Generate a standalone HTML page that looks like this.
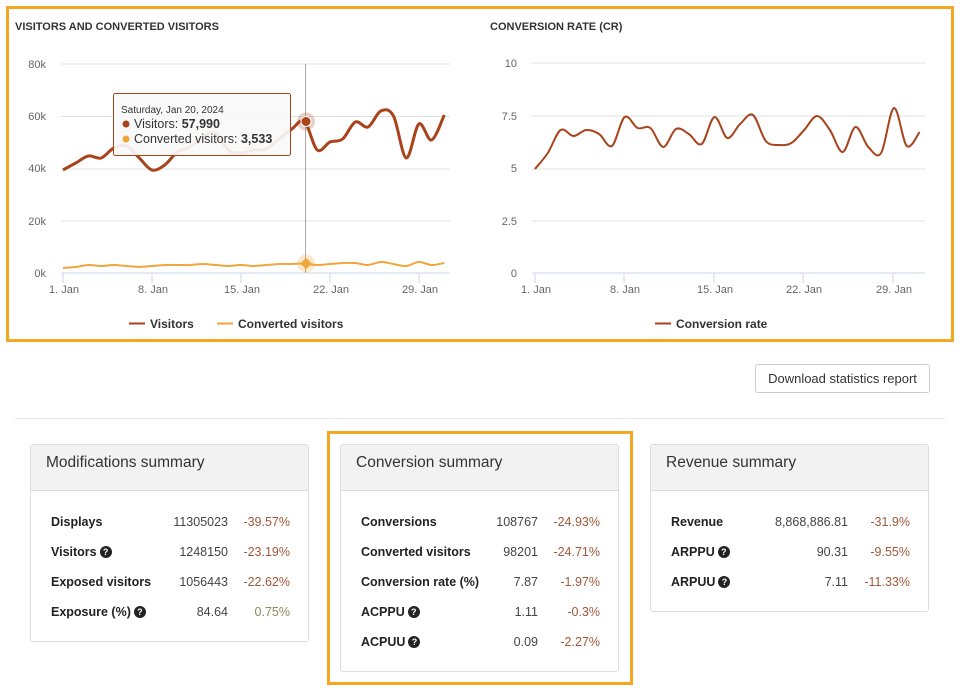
<!DOCTYPE html>
<html><head><meta charset="utf-8"><style>
body{margin:0;width:960px;height:693px;background:#fff;font-family:"Liberation Sans",sans-serif;position:relative;overflow:hidden;color:#333}
.abs{position:absolute}
.card{position:absolute;top:444px;width:277px;border:1px solid #ddd;border-radius:3px;background:#fff}
.card .hd{height:45px;background:#f2f2f2;border-bottom:1px solid #ddd;font-size:15.5px;line-height:36px;padding-left:15px;color:#333}
.row{position:absolute;left:20px;width:239px;height:20px;font-size:12.5px;line-height:20px}
.row b{position:absolute;left:0;color:#222}
.row .v{position:absolute;right:62px;color:#444}
.row .p{position:absolute;right:0;color:#a0583a}
.q{display:inline-block;width:12px;height:12px;border-radius:50%;background:#222;color:#fff;font-size:9px;line-height:12px;text-align:center;vertical-align:1px;margin-left:3px}
</style></head><body>
<div class="abs" style="left:6px;top:6px;width:942px;height:330px;border:3px solid #f5a623"></div>
<div class="abs" style="left:327px;top:431px;width:300px;height:248px;border:3px solid #f5a623"></div>
<svg class="abs" style="left:0;top:0" width="960" height="345" font-family="Liberation Sans, sans-serif">
<text x="15" y="30" font-size="11" font-weight="bold" fill="#333">VISITORS AND CONVERTED VISITORS</text>
<text x="490" y="30" font-size="11" font-weight="bold" fill="#333">CONVERSION RATE (CR)</text>
<g stroke="#e0e0e0" stroke-width="1">
<line x1="61" x2="450" y1="64" y2="64"/><line x1="61" x2="450" y1="116.5" y2="116.5"/><line x1="61" x2="450" y1="169" y2="169"/><line x1="61" x2="450" y1="221" y2="221"/>
<line x1="532" x2="925" y1="63" y2="63"/><line x1="532" x2="925" y1="116" y2="116"/><line x1="532" x2="925" y1="169" y2="169"/><line x1="532" x2="925" y1="221" y2="221"/>
</g>
<g stroke="#ccd6eb"><line x1="61" x2="450" y1="273" y2="273"/><line x1="532" x2="925" y1="273" y2="273"/>
<line x1="63" x2="63" y1="273" y2="283"/><line x1="152" x2="152" y1="273" y2="283"/><line x1="241" x2="241" y1="273" y2="283"/><line x1="330" x2="330" y1="273" y2="283"/><line x1="419" x2="419" y1="273" y2="283"/>
<line x1="535" x2="535" y1="273" y2="283"/><line x1="624" x2="624" y1="273" y2="283"/><line x1="714" x2="714" y1="273" y2="283"/><line x1="803" x2="803" y1="273" y2="283"/><line x1="893" x2="893" y1="273" y2="283"/></g>
<g font-size="11" fill="#666" text-anchor="end">
<text x="46" y="68">80k</text><text x="46" y="120">60k</text><text x="46" y="172">40k</text><text x="46" y="225">20k</text><text x="46" y="277">0k</text>
<text x="517" y="67">10</text><text x="517" y="120">7.5</text><text x="517" y="172">5</text><text x="517" y="225">2.5</text><text x="517" y="277">0</text></g>
<g font-size="11" fill="#666" text-anchor="middle">
<text x="64" y="293">1. Jan</text><text x="153" y="293">8. Jan</text><text x="242" y="293">15. Jan</text><text x="331" y="293">22. Jan</text><text x="420" y="293">29. Jan</text>
<text x="536" y="293">1. Jan</text><text x="625" y="293">8. Jan</text><text x="715" y="293">15. Jan</text><text x="804" y="293">22. Jan</text><text x="894" y="293">29. Jan</text></g>
<line x1="305.5" x2="305.5" y1="64" y2="273" stroke="#aaa"/>
<path id="vis" fill="none" stroke="#a9431b" stroke-width="3"/>
<path id="conv" fill="none" stroke="#f0a63a" stroke-width="2"/>
<path id="cr" fill="none" stroke="#a9431b" stroke-width="2"/>
<circle cx="306" cy="121.5" r="9" fill="#a9431b" opacity="0.25"/><circle cx="306" cy="121.5" r="5" fill="#a9431b" stroke="#fff"/>
<circle cx="306" cy="263.5" r="9" fill="#f0a63a" opacity="0.25"/><rect x="302" y="259.5" width="8" height="8" fill="#f0a63a" transform="rotate(45 306 263.5)"/>
<rect x="113.5" y="93.5" width="177" height="62" rx="2" fill="#f9f9f9" fill-opacity="0.92" stroke="#a9431b"/>
<text x="121" y="113" font-size="10" fill="#333">Saturday, Jan 20, 2024</text>
<circle cx="126" cy="124" r="3.5" fill="#a9431b"/><text x="134" y="128" font-size="12.5" fill="#333">Visitors: <tspan font-weight="bold">57,990</tspan></text>
<circle cx="126" cy="139" r="3.5" fill="#f0a63a"/><text x="134" y="143" font-size="12.5" fill="#333">Converted visitors: <tspan font-weight="bold">3,533</tspan></text>
<line x1="129" x2="145" y1="323.5" y2="323.5" stroke="#a9431b" stroke-width="2"/><text x="150" y="328" font-size="12" font-weight="bold" fill="#333">Visitors</text>
<line x1="217" x2="233" y1="323.5" y2="323.5" stroke="#f0a63a" stroke-width="2"/><text x="238" y="328" font-size="12" font-weight="bold" fill="#333">Converted visitors</text>
<line x1="655" x2="671" y1="323.5" y2="323.5" stroke="#a9431b" stroke-width="2"/><text x="676" y="328" font-size="12" font-weight="bold" fill="#333">Conversion rate</text>
</svg>
<div class="abs" style="left:755px;top:364px;width:173px;height:27px;border:1px solid #ccc;border-radius:3px;font-size:13px;line-height:27px;text-align:center;color:#333">Download statistics report</div>
<div class="abs" style="left:15px;top:418px;width:930px;height:1px;background:#e5e5e5"></div>

<div class="card" style="left:30px;height:196px"><div class="hd">Modifications summary</div>
<div class="row" style="top:67px"><b>Displays</b><span class="v">11305023</span><span class="p">-39.57%</span></div>
<div class="row" style="top:97px"><b>Visitors<span class="q">?</span></b><span class="v">1248150</span><span class="p">-23.19%</span></div>
<div class="row" style="top:127px"><b>Exposed visitors</b><span class="v">1056443</span><span class="p">-22.62%</span></div>
<div class="row" style="top:157px"><b>Exposure (%)<span class="q">?</span></b><span class="v">84.64</span><span class="p" style="color:#8a8a5a">0.75%</span></div>
</div>
<div class="card" style="left:340px;height:226px"><div class="hd">Conversion summary</div>
<div class="row" style="top:67px"><b>Conversions</b><span class="v">108767</span><span class="p">-24.93%</span></div>
<div class="row" style="top:97px"><b>Converted visitors</b><span class="v">98201</span><span class="p">-24.71%</span></div>
<div class="row" style="top:127px"><b>Conversion rate (%)</b><span class="v">7.87</span><span class="p">-1.97%</span></div>
<div class="row" style="top:157px"><b>ACPPU<span class="q">?</span></b><span class="v">1.11</span><span class="p">-0.3%</span></div>
<div class="row" style="top:187px"><b>ACPUU<span class="q">?</span></b><span class="v">0.09</span><span class="p">-2.27%</span></div>
</div>
<div class="card" style="left:650px;height:166px"><div class="hd">Revenue summary</div>
<div class="row" style="top:67px"><b>Revenue</b><span class="v">8,868,886.81</span><span class="p">-31.9%</span></div>
<div class="row" style="top:97px"><b>ARPPU<span class="q">?</span></b><span class="v">90.31</span><span class="p">-9.55%</span></div>
<div class="row" style="top:127px"><b>ARPUU<span class="q">?</span></b><span class="v">7.11</span><span class="p">-11.33%</span></div>
</div>
<script>
function sm(xs,ys){var p="M"+xs[0]+","+ys[0];for(var i=0;i<xs.length-1;i++){var x0=xs[Math.max(i-1,0)],y0=ys[Math.max(i-1,0)],x1=xs[i],y1=ys[i],x2=xs[i+1],y2=ys[i+1],x3=xs[Math.min(i+2,xs.length-1)],y3=ys[Math.min(i+2,xs.length-1)];p+=" C"+(x1+(x2-x0)/6).toFixed(1)+","+(y1+(y2-y0)/6).toFixed(1)+" "+(x2-(x3-x1)/6).toFixed(1)+","+(y2-(y3-y1)/6).toFixed(1)+" "+x2+","+y2;}return p;}
var v=[170,163,156,158,148,146,158,170,165,152,147,137,133,150,153,150,149,139,129,121.5,150,142,139,122,127,111,116,158,124,140,115];
var c=[268,267,265,266,265,266,267,266,265,265,265,264,265,266,265,266,265,264,264,263.5,265,264,263,263,265,262,264,266,262,265,263];
var r=[169,153,130,136,130,134,146,117,128,128,147,129,134,144,117,138,124,115,141,145,143,130,116,130,152,127,147,153,108,146,132];
var xl=[],xr=[];for(var i=0;i<31;i++){xl.push(+(63+i*12.71).toFixed(1));xr.push(+(535+i*12.82).toFixed(1));}
document.getElementById("vis").setAttribute("d",sm(xl,v));
document.getElementById("conv").setAttribute("d",sm(xl,c));
document.getElementById("cr").setAttribute("d",sm(xr,r));
</script>
</body></html>
